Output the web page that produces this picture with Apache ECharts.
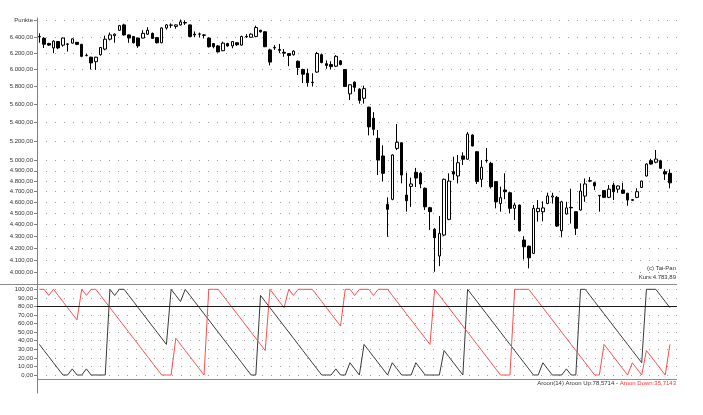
<!DOCTYPE html>
<html>
<head>
<meta charset="utf-8">
<script src="https://cdn.jsdelivr.net/npm/echarts@6/dist/echarts.min.js"></script>
<style>
  html, body { margin: 0; padding: 0; background: #fff; }
  #chart { width: 703px; height: 415px; }
</style>
</head>
<body>
<div id="chart"></div>
<script>
  // Tageskerzen [open, close, low, high]
  const ohlc = [
    [6410,6405,6330,6450],[6387,6311,6264,6400],[6320,6300,6290,6330],[6265,6350,6200,6360],[6345,6265,6250,6350],
    [6300,6390,6280,6395],[6310,6315,6220,6325],[6325,6380,6320,6385],[6335,6310,6300,6340],[6310,6160,6150,6315],
    [6170,6172,6160,6195],[6150,6080,6000,6155],[6095,6150,5995,6155],[6180,6270,6170,6275],[6250,6375,6235,6420],
    [6375,6430,6360,6460],[6420,6440,6330,6450],[6490,6550,6480,6560],[6560,6430,6420,6575],[6430,6390,6330,6435],
    [6410,6330,6320,6415],[6390,6290,6265,6395],[6390,6450,6385,6490],[6440,6490,6430,6530],[6450,6385,6380,6460],
    [6395,6330,6320,6400],[6330,6520,6325,6530],[6520,6560,6500,6570],[6555,6558,6520,6580],[6540,6560,6510,6565],
    [6560,6600,6550,6630],[6590,6585,6560,6620],[6560,6410,6400,6565],[6440,6430,6400,6475],[6440,6442,6400,6460],
    [6430,6425,6385,6440],[6390,6280,6270,6395],[6320,6280,6260,6325],[6290,6215,6210,6300],[6230,6325,6225,6345],
    [6320,6290,6280,6330],[6290,6345,6260,6350],[6330,6305,6290,6335],[6300,6410,6295,6420],[6410,6405,6390,6440],
    [6400,6440,6395,6450],[6410,6525,6400,6550],[6490,6470,6460,6495],[6470,6280,6275,6475],[6240,6090,6050,6255],
    [6270,6265,6240,6300],[6245,6235,6200,6315],[6210,6200,6155,6250],[6195,6170,6040,6200],[6180,6225,6170,6235],
    [6100,6025,5935,6110],[6000,5945,5840,6010],[5955,5845,5800,6010],[5850,5845,5800,5955],[5970,6195,5960,6215],
    [6180,6085,6075,6195],[6070,6050,6010,6110],[6060,6035,6000,6100],[6040,6160,6030,6175],[6105,6060,6050,6115],
    [6000,5800,5795,6005],[5715,5820,5646,5825],[5850,5790,5740,5860],[5770,5640,5605,5780],[5665,5775,5605,5810],
    [5565,5350,5260,5570],[5443,5324,5260,5510],[5229,5007,4859,5317],[5048,4876,4796,5157],[4583,4537,4295,4647],
    [4629,5058,4620,5065],[5125,5188,5108,5381],[5183,4859,4779,5190],[4668,4616,4516,4882],[4750,4773,4560,4834],
    [4886,4830,4743,4929],[4876,4773,4732,4890],[4732,4560,4531,4740],[4552,4516,4353,4560],[4359,4287,4005,4370],
    [4133,4324,4050,4477],[4310,4818,4300,4825],[4447,4801,4440,4876],[4892,4869,4811,5040],[4850,4980,4779,5058],
    [5048,5015,4957,5085],[5015,5274,5010,5295],[5264,5150,5145,5270],[5091,4796,4773,5095],[4818,4935,4743,5007],
    [5005,5000,4980,5130],[4974,4747,4730,4990],[4796,4606,4546,4800],[4590,4644,4516,4747],[4716,4700,4630,4876],
    [4690,4546,4500,4700],[4546,4576,4441,4595],[4576,4347,4340,4580],[4267,4210,4105,4300],[4215,4118,4032,4220],
    [4155,4546,4150,4576],[4516,4546,4427,4622],[4515,4550,4430,4610],[4590,4660,4585,4690],[4650,4660,4590,4690],
    [4647,4388,4380,4660],[4347,4606,4290,4615],[4495,4550,4490,4606],[4555,4550,4410,4728],[4516,4368,4310,4520],
    [4531,4706,4525,4779],[4659,4773,4606,4826],[4800,4805,4790,4840],[4785,4755,4715,4795],[4660,4665,4516,4668],
    [4710,4647,4640,4715],[4647,4724,4640,4763],[4763,4700,4622,4785],[4724,4754,4690,4760],[4716,4685,4680,4785],
    [4685,4622,4570,4690],[4625,4620,4615,4630],[4647,4700,4640,4732],[4740,4801,4735,4805],[4850,4967,4845,4975],
    [5000,4967,4960,5020],[4985,5017,4975,5108],[5000,4925,4920,5010],[4892,4869,4811,4915],[4876,4783.89,4732,4915]
  ];

  // Aroon(14): Anzahl Perioden (von 14) seit Hoch bzw. Tief
  const aroonPeriod = 14;
  const aroonUpK = [
    5,4,3,2,1,0,0,1,0,0, 1,0,0,0,0,14,13,14,14,13, 12,11,10,9,8,7,6,5,14,13,
    12,14,13,12,11,10,9,8,7,6, 5,4,3,2,1,0,0,13,12,11, 10,9,8,7,6,5,4,3,2,1,
    0,0,0,1,0,0,2,1,0,5, 4,3,2,1,0,2,1,0,0,0, 2,1,0,0,0,0,4,3,2,1,
    0,14,13,12,11,10,9,8,7,6, 5,4,3,2,1,0,0,2,1,0, 0,0,1,0,0,14,14,13,12,11,
    10,9,8,7,6,5,4,3,2,14, 14,14,13,12,11
  ];
  const aroonDownK = [
    14,14,13,14,13,12,11,10,9,14, 13,14,14,13,12,11,10,9,8,7, 6,5,4,3,2,1,0,0,0,6,
    5,4,3,2,1,0,14,14,14,13, 12,11,10,9,8,7,6,5,4,14, 13,12,11,14,13,14,14,14,14,13,
    12,11,10,9,8,14,14,13,14,14, 14,13,14,14,14,13,12,11,10,9, 8,7,6,5,14,13,12,11,10,9,
    8,7,6,5,4,3,2,1,0,0, 0,14,14,14,14,13,12,11,10,9, 8,7,6,5,4,3,2,1,0,0,
    5,4,3,2,1,0,2,1,0,4, 3,2,1,0,5
  ];

  const priceTicks = [4000,4100,4200,4300,4400,4500,4600,4700,4800,4900,5000,5200,5400,5600,5800,6000,6200,6400];
  const punkteRow = 6625;
  const priceRange = [3908, 6651];
  const aroonTicks = [0,10,20,30,40,50,60,70,80,90,100];
  const aroonRange = [-21, 106.2];
  const aroonSignal = 80;
  const aroonBase = -4.7;

  const days = ohlc.map((_, i) => String(i + 1)).concat(['']);
  const aroonUp = aroonUpK.map(k => k / aroonPeriod * 100);
  const aroonDown = aroonDownK.map(k => k / aroonPeriod * 100);

  function de(v, d) {
    const parts = v.toFixed(d).split('.');
    return parts[0].replace(/\B(?=(\d{3})+$)/g, '.') + ',' + parts[1];
  }

  const font = 'Liberation Sans, Arial, sans-serif';
  const priceTickVals = priceTicks.concat([punkteRow]).map(Math.log);

  const chart = echarts.init(document.getElementById('chart'));
  chart.setOption({
    animation: false,
    backgroundColor: '#fff',
    title: [
      { text: '(c) Tai-Pan', right: 27, top: 265, padding: 0,
        textStyle: { fontSize: 6, fontWeight: 'normal', color: '#333', fontFamily: font } },
      { text: 'Kurs:' + de(ohlc[ohlc.length - 1][1], 2), right: 27, top: 274, padding: 0,
        textStyle: { fontSize: 6, fontWeight: 'normal', color: '#333', fontFamily: font } },
      { text: '{a|Aroon(' + aroonPeriod + ') Aroon Up:' + de(aroonUp[aroonUp.length - 1], 4) + ' - }{b|Aroon Down:' + de(aroonDown[aroonDown.length - 1], 4) + '}',
        right: 27, top: 380, padding: 0,
        textStyle: { fontSize: 6, fontWeight: 'normal', fontFamily: font,
          rich: { a: { fontSize: 6, color: '#333', fontFamily: font }, b: { fontSize: 6, color: '#f33', fontFamily: font } } } }
    ],
    graphic: [
      { type: 'line', silent: true, shape: { x1: 0, y1: 284.5, x2: 677, y2: 284.5 },
        style: { stroke: '#8c8c8c', lineWidth: 1 } }
    ],
    grid: [
      { left: 37, right: 26, top: 18, height: 266 },
      { left: 37, right: 26, top: 284, height: 109 }
    ],
    xAxis: [
      { type: 'category', gridIndex: 0, data: days, boundaryGap: true, show: false },
      { type: 'category', gridIndex: 1, data: days, boundaryGap: true, show: false }
    ],
    yAxis: [
      {
        type: 'value', gridIndex: 0,
        min: Math.log(priceRange[0]), max: Math.log(priceRange[1]),
        axisLine: { show: true, lineStyle: { color: '#808080' } },
        axisTick: { show: true, length: 3, customValues: priceTickVals, lineStyle: { color: '#808080' } },
        axisLabel: {
          customValues: priceTickVals, margin: 4, fontSize: 6, color: '#333', fontFamily: font,
          formatter: v => {
            const p = Math.exp(v);
            return Math.abs(p - punkteRow) < 1 ? 'Punkte' : de(Math.round(p), 2);
          }
        },
        splitLine: { show: true, lineStyle: { color: '#a0a0a0', width: 1, type: [1, 8] } }
      },
      {
        type: 'value', gridIndex: 1,
        min: aroonRange[0], max: aroonRange[1],
        axisLine: { show: true, lineStyle: { color: '#808080' } },
        axisTick: { show: true, length: 3, customValues: aroonTicks, lineStyle: { color: '#808080' } },
        axisLabel: { customValues: aroonTicks, margin: 4, fontSize: 6, color: '#333', fontFamily: font,
          formatter: v => de(v, 2) },
        splitLine: { show: true, lineStyle: { color: '#a0a0a0', width: 1, type: [1, 8] } }
      }
    ],
    series: [
      {
        type: 'candlestick', xAxisIndex: 0, yAxisIndex: 0,
        data: ohlc.map(r => r.map(Math.log)),
        barWidth: 3,
        itemStyle: {
          color: '#fff', color0: '#000',
          borderColor: '#000', borderColor0: '#000', borderColorDoji: '#000',
          borderWidth: 1
        }
      },
      {
        name: 'Aroon Up', type: 'line', xAxisIndex: 1, yAxisIndex: 1,
        data: aroonUp, symbol: 'none',
        lineStyle: { color: '#3a3a3a', width: 1 },
        markLine: {
          silent: true, symbol: ['none', 'none'], label: { show: false },
          data: [
            { yAxis: aroonSignal, lineStyle: { color: '#1a1a1a', width: 1, type: 'solid' } },
            { yAxis: aroonBase, lineStyle: { color: '#8c8c8c', width: 1, type: 'solid' } }
          ]
        }
      },
      {
        name: 'Aroon Down', type: 'line', xAxisIndex: 1, yAxisIndex: 1,
        data: aroonDown, symbol: 'none',
        lineStyle: { color: '#ff4d4d', width: 1 }
      }
    ]
  });
</script>
</body>
</html>
